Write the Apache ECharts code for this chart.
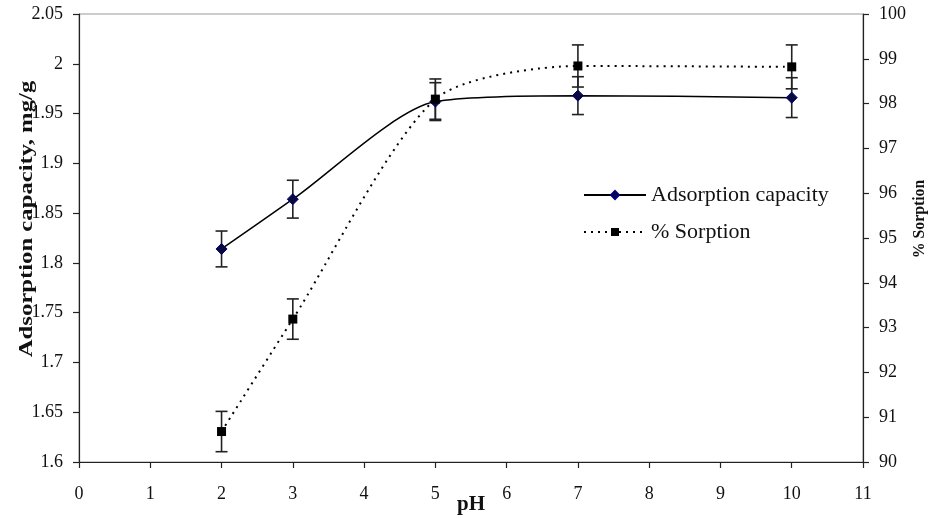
<!DOCTYPE html>
<html>
<head>
<meta charset="utf-8">
<script src="https://cdn.jsdelivr.net/npm/echarts@6/dist/echarts.min.js"></script>
<style>
  html, body { margin: 0; padding: 0; background: #fff; }
  #chart { width: 928px; height: 518px; }
</style>
</head>
<body>
<div id="chart"></div>
<script>
// pH values and the two measured series
const ph = [2, 3, 5, 7, 10];
const adsorption = [1.814, 1.864, 1.962, 1.968, 1.966];
const adsorptionErr = [0.018, 0.019, 0.019, 0.019, 0.02];
const sorption = [90.68, 93.19, 98.1, 98.84, 98.82];
const sorptionErr = [0.45, 0.45, 0.45, 0.47, 0.49];

const font = 'Liberation Serif';

function errorBars(values, errs) {
  return ph.map((x, i) => [x, values[i] - errs[i], values[i] + errs[i]]);
}

function renderErr(params, api) {
  const lo = api.coord([api.value(0), api.value(1)]);
  const hi = api.coord([api.value(0), api.value(2)]);
  const w = 6;
  const style = { stroke: '#222', lineWidth: 1.6 };
  return {
    type: 'group',
    children: [
      { type: 'line', shape: { x1: lo[0], y1: lo[1], x2: hi[0], y2: hi[1] }, style },
      { type: 'line', shape: { x1: lo[0] - w, y1: lo[1], x2: lo[0] + w, y2: lo[1] }, style },
      { type: 'line', shape: { x1: hi[0] - w, y1: hi[1], x2: hi[0] + w, y2: hi[1] }, style }
    ]
  };
}

function title(text, x, y, size, rotate, stretch) {
  return {
    type: 'text', x, y, rotation: rotate ? Math.PI / 2 : 0, scaleX: stretch || 1,
    style: {
      text, fill: '#111', fontFamily: font, fontSize: size, fontWeight: 'bold',
      align: 'center', verticalAlign: 'middle'
    }
  };
}

const axisLine = { lineStyle: { color: '#222', width: 1.2 } };
const axisTick = { show: true, length: 6, lineStyle: { color: '#222', width: 1.2 } };
const labelStyle = { fontFamily: font, fontSize: 18, color: '#111' };

const chart = echarts.init(document.getElementById('chart'));
chart.setOption({
  animation: false,
  grid: {
    left: 79, right: 65, top: 14, bottom: 56,
    containLabel: false, outerBoundsMode: 'none',
    show: true, borderColor: '#999', borderWidth: 1
  },
  legend: {
    left: 578, top: 179, orient: 'vertical',
    itemWidth: 62, itemHeight: 10, itemGap: 15,
    data: ['Adsorption capacity', '% Sorption'],
    textStyle: { fontFamily: font, fontSize: 22, color: '#111' }
  },
  // axis titles; the left one is stretched along its length in the source
  graphic: [
    title('Adsorption capacity, mg/g', 27, 219, 19, true, 1.3),
    title('% Sorption', 920, 219, 17, true, 0.93),
    title('pH', 471, 505, 21, false)
  ],
  xAxis: {
    type: 'value', min: 0, max: 11, interval: 1,
    axisLine, axisTick, splitLine: { show: false },
    axisLabel: Object.assign({ margin: 23 }, labelStyle)
  },
  yAxis: [
    {
      type: 'value', min: 1.6, max: 2.05, interval: 0.05,
      axisLine: Object.assign({ show: true }, axisLine), axisTick, splitLine: { show: false },
      axisLabel: Object.assign({ margin: 16, formatter: v => String(+v.toFixed(2)) }, labelStyle)
    },
    {
      type: 'value', min: 90, max: 100, interval: 1,
      axisLine: Object.assign({ show: true }, axisLine), axisTick, splitLine: { show: false },
      axisLabel: Object.assign({ margin: 16 }, labelStyle)
    }
  ],
  series: [
    {
      name: 'Adsorption capacity', type: 'line', yAxisIndex: 0,
      data: ph.map((x, i) => [x, adsorption[i]]),
      smooth: 0.25,
      symbol: 'diamond', symbolSize: 11,
      lineStyle: { color: '#000', width: 1.5, type: 'solid' },
      itemStyle: { color: '#0a0a3c', borderColor: '#000080', borderWidth: 1 },
      z: 4
    },
    {
      name: '% Sorption', type: 'line', yAxisIndex: 1,
      data: ph.map((x, i) => [x, sorption[i]]),
      smooth: 0.25,
      symbol: 'rect', symbolSize: 9,
      lineStyle: { color: '#000', width: 2, type: [2, 5] },
      itemStyle: { color: '#000' },
      z: 4
    },
    {
      type: 'custom', yAxisIndex: 0, renderItem: renderErr,
      data: errorBars(adsorption, adsorptionErr), z: 3, silent: true
    },
    {
      type: 'custom', yAxisIndex: 1, renderItem: renderErr,
      data: errorBars(sorption, sorptionErr), z: 3, silent: true
    }
  ]
});
window.addEventListener('resize', () => chart.resize());
</script>
</body>
</html>
